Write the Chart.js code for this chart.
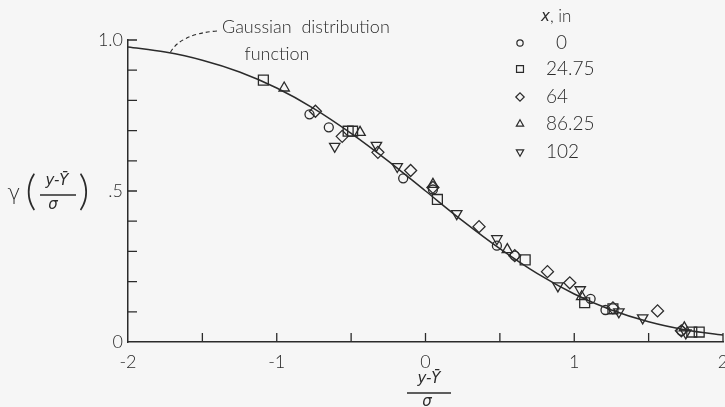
<!DOCTYPE html>
<html>
<head>
<meta charset="utf-8">
<script src="https://cdn.jsdelivr.net/npm/chart.js@4/dist/chart.umd.min.js"></script>
<style>
  html, body { margin: 0; padding: 0; background: #f6f6f6; overflow: hidden; }
  #c { display: block; }
</style>
</head>
<body>
<canvas id="c" width="725" height="407"></canvas>
<script>
// Gaussian distribution function
const curveX = [-2, -1.75, -1.5, -1.25, -1, -0.75, -0.5, -0.25, 0, 0.25, 0.5, 0.75, 1, 1.25, 1.5, 1.75, 2]
const curveY = [0.977, 0.960, 0.933, 0.894, 0.841, 0.773, 0.691, 0.599, 0.5, 0.401, 0.309, 0.227, 0.159, 0.106, 0.067, 0.040, 0.023]

// measured points, one pair of arrays per station x (in)
const stations = ['0', '24.75', '64', '86.25', '102']
const x0 = [-0.78, -0.65, -0.15, 0.05, 0.48, 0.60, 1.11, 1.21, 1.72]
const y0 = [0.754, 0.711, 0.542, 0.505, 0.319, 0.286, 0.143, 0.106, 0.037]
const x24 = [-1.09, -0.52, -0.49, 0.08, 0.67, 1.07, 1.26, 1.79, 1.84]
const y24 = [0.867, 0.698, 0.698, 0.472, 0.272, 0.130, 0.110, 0.033, 0.033]
const x64 = [-0.74, -0.56, -0.32, -0.10, 0.05, 0.36, 0.60, 0.82, 0.97, 1.26, 1.56, 1.72]
const y64 = [0.764, 0.681, 0.628, 0.568, 0.512, 0.382, 0.286, 0.233, 0.196, 0.113, 0.103, 0.037]
const x86 = [-0.95, -0.44, 0.05, 0.55, 1.05, 1.74]
const y86 = [0.841, 0.694, 0.522, 0.306, 0.150, 0.047]
const x102 = [-0.61, -0.33, -0.19, 0.21, 0.48, 0.89, 1.04, 1.30, 1.46, 1.75]
const y102 = [0.648, 0.651, 0.581, 0.425, 0.342, 0.186, 0.173, 0.100, 0.080, 0.030]

const xTicks = [-2, -1.5, -1, -0.5, 0, 0.5, 1, 1.5, 2]
const yTicks = [0.1, 0.2, 0.3, 0.4, 0.5, 0.6, 0.7, 0.8, 0.9, 1.0]

const ink = '#2b2b2b'
const pts = (xs, ys) => xs.map((x, i) => ({ x, y: ys[i] }))

const markers = [
  { data: pts(x0, y0), pointStyle: 'circle', radius: 4.5, rotation: 0 },
  { data: pts(x24, y24), pointStyle: 'rect', radius: 7, rotation: 0 },
  { data: pts(x64, y64), pointStyle: 'rectRot', radius: 6, rotation: 0 },
  { data: pts(x86, y86), pointStyle: 'triangle', radius: 6, rotation: 0 },
  { data: pts(x102, y102), pointStyle: 'triangle', radius: 6, rotation: 180 }
]

const datasets = [{
  label: 'Gaussian distribution function',
  data: pts(curveX, curveY),
  showLine: true,
  borderColor: ink,
  borderWidth: 1.5,
  pointRadius: 0,
  cubicInterpolationMode: 'monotone'
}].concat(markers.map((m, i) => ({
  label: stations[i],
  data: m.data,
  legend: true,
  showLine: false,
  pointStyle: m.pointStyle,
  rotation: m.rotation,
  pointRadius: m.radius,
  borderColor: ink,
  borderWidth: 1.3,
  backgroundColor: 'rgba(0,0,0,0)'
})))

const near = (a, b) => Math.abs(a - b) < 1e-6

// inward ticks, legend, axis titles and the annotation
const decor = {
  id: 'decor',
  afterDraw(chart) {
    const { ctx, scales: { x, y } } = chart
    const x0px = x.getPixelForValue(-2)
    const y0px = y.getPixelForValue(0)
    ctx.save()
    ctx.strokeStyle = ink
    ctx.lineWidth = 1.3
    ctx.beginPath()
    xTicks.slice(1).forEach(v => {
      const px = x.getPixelForValue(v)
      ctx.moveTo(px, y0px); ctx.lineTo(px, y0px - 9)
    })
    yTicks.forEach(v => {
      const py = y.getPixelForValue(v)
      ctx.moveTo(x0px, py); ctx.lineTo(x0px + 9, py)
    })
    ctx.stroke()

    // legend
    ctx.fillStyle = ink
    ctx.font = 'italic 15px "DejaVu Sans"'
    ctx.textBaseline = 'middle'
    ctx.textAlign = 'left'
    ctx.fillText('x', 541, 17)
    ctx.font = '300 17px Lato'
    ctx.fillText(', in', 550, 17)
    const ly = [43, 69, 97, 124, 152]
    chart.data.datasets.filter(d => d.legend).forEach((d, i) => {
      ctx.lineWidth = 1.2
      ctx.strokeStyle = ink
      ctx.fillStyle = 'rgba(0,0,0,0)'
      const opts = { pointStyle: d.pointStyle, rotation: d.rotation, radius: d.pointRadius * 0.7, borderWidth: 1.2 }
      Chart.helpers.drawPoint(ctx, opts, 520, ly[i])
      ctx.font = '300 19px Lato'
      ctx.fillStyle = ink
      ctx.fillText(d.label, i === 0 ? 556 : 546, ly[i])
    })

    // annotation
    ctx.font = '300 18px Lato'
    ctx.textAlign = 'left'
    ctx.fillText('Gaussian  distribution', 222, 27)
    ctx.textAlign = 'center'
    ctx.fillText('function', 277, 54)
    ctx.setLineDash([4, 3])
    ctx.lineWidth = 1.1
    ctx.beginPath()
    ctx.moveTo(217, 31)
    ctx.quadraticCurveTo(180, 34, 170, 53)
    ctx.stroke()
    ctx.setLineDash([])

    // y axis title
    ctx.textAlign = 'center'
    ctx.font = '200 22px "DejaVu Sans"'
    ctx.fillText('\u03b3', 14, 194)
    ctx.font = '300 42px Lato'
    ctx.fillText('(', 31, 191)
    ctx.fillText(')', 84, 191)
    ctx.font = 'italic 15px "DejaVu Sans"'
    ctx.fillText('y-\u0232', 57, 181)
    ctx.fillText('\u03c3', 53, 205)
    ctx.lineWidth = 1.5
    ctx.beginPath(); ctx.moveTo(40, 195); ctx.lineTo(76, 195); ctx.stroke()

    // x axis title
    ctx.fillText('y-\u0232', 429, 379)
    ctx.fillText('\u03c3', 427, 402)
    ctx.beginPath(); ctx.moveTo(407, 393); ctx.lineTo(451, 393); ctx.stroke()
    ctx.restore()
  }
}

new Chart(document.getElementById('c'), {
  type: 'scatter',
  data: { datasets },
  options: {
    responsive: false,
    animation: false,
    devicePixelRatio: 1,
    layout: { autoPadding: false, padding: { left: 0, right: 2, top: 40, bottom: 0 } },
    plugins: { legend: { display: false }, tooltip: { enabled: false } },
    scales: {
      x: {
        type: 'linear', min: -2, max: 2,
        grid: { display: false, drawTicks: false },
        border: { display: true, color: ink, width: 1.5 },
        ticks: {
          stepSize: 0.5, autoSkip: false, maxRotation: 0, padding: 9,
          color: ink, font: { family: 'Lato', weight: 300, size: 18 },
          callback: v => Number.isInteger(v) ? String(v) : ''
        },
        afterFit(s) { s.height = 65; s.paddingLeft = 0; s.paddingRight = 0 }
      },
      y: {
        type: 'linear', min: 0, max: 1,
        grid: { display: false, drawTicks: false },
        border: { display: true, color: ink, width: 1.5 },
        ticks: {
          stepSize: 0.1, autoSkip: false, padding: 5,
          color: ink, font: { family: 'Lato', weight: 300, size: 18 },
          callback: v => near(v, 1) ? '1.0' : near(v, 0.5) ? '.5' : near(v, 0) ? '0' : ''
        },
        afterFit(s) { s.width = 128; s.paddingTop = 0; s.paddingBottom = 0 }
      }
    }
  },
  plugins: [decor]
})
</script>
</body>
</html>
